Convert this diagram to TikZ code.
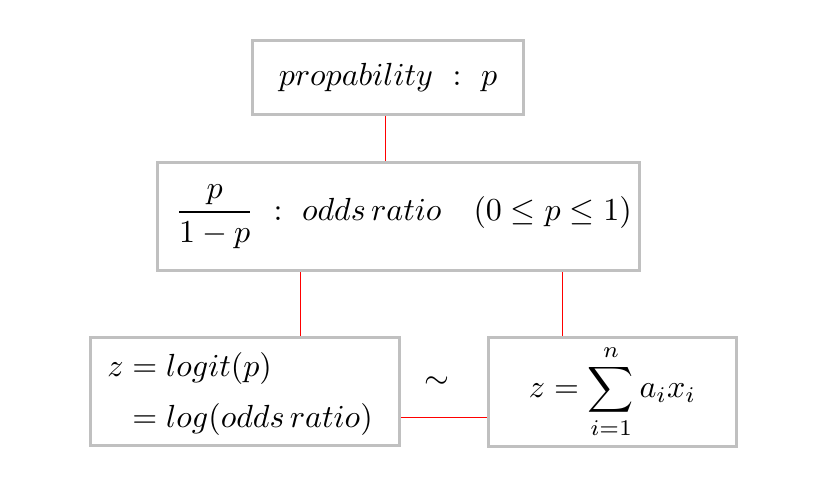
\documentclass[tikz,border=0pt]{standalone}
\usepackage{amsmath}
\begin{document}
\begin{tikzpicture}[x=0.3125pt,y=-0.3125pt,
  font=\fontsize{10}{12}\selectfont,
  box/.style={draw=boxgray,line width=0.94pt,rectangle,inner sep=0pt},
  link/.style={draw=red,line width=0.3pt}]
\definecolor{boxgray}{RGB}{192,192,192}
\useasboundingbox (0,0) rectangle (824,491);
\node[box,minimum width=271*0.3125pt,minimum height=74*0.3125pt] (b1) at (388,77.5) {$propability\ :\ p$};
\node[box,minimum width=482*0.3125pt,minimum height=108*0.3125pt] (b2) at (398.5,216.5) {};
\node (t2) at (403.5,216.5) {$\dfrac{p}{1-p}\ :\ odds\,ratio\quad(0\le p\le 1)$};
\node[box,minimum width=309*0.3125pt,minimum height=108*0.3125pt] (b3) at (245,391.5) {};
\node (t3) at (240,394) {$\begin{aligned} z &= logit(p)\\[1pt] &= log(odds\,ratio)\end{aligned}$};
\node[box,minimum width=248*0.3125pt,minimum height=109*0.3125pt] (b4) at (612.5,392) {$\displaystyle z=\sum_{i=1}^{n}a_ix_i$};
\node (sim) at (437,383) {$\sim$};
\draw[link] ([xshift=-3*0.3125pt]b1.south) -- ([xshift=-3*0.3125pt]b1.south |- b2.north);
\draw[link] ([xshift=55*0.3125pt]b3.north) -- ([xshift=55*0.3125pt]b3.north |- b2.south);
\draw[link] ([xshift=-50.5*0.3125pt]b4.north) -- ([xshift=-50.5*0.3125pt]b4.north |- b2.south);
\draw[link] ([yshift=-25.5*0.3125pt]b3.east) -- ([yshift=-25.5*0.3125pt]b3.east -| b4.west);
\end{tikzpicture}
\end{document}
